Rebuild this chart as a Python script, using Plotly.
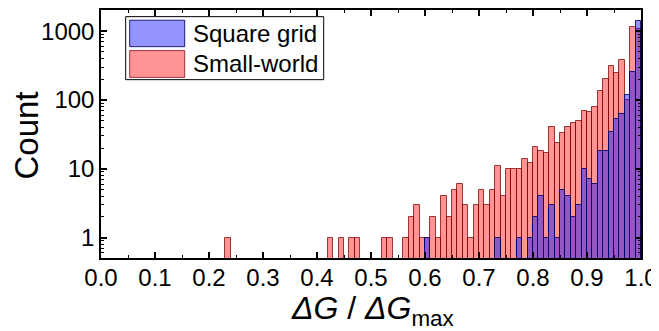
import plotly.graph_objects as go

# ---- data (bin left edges, bin width 0.01) ----
bin_width = 0.01
small_world_bins = [0.23, 0.42, 0.44, 0.46, 0.47, 0.52, 0.53, 0.56, 0.57, 0.58,
                    0.59, 0.60, 0.61, 0.62, 0.63, 0.64, 0.65, 0.66, 0.67, 0.68,
                    0.69, 0.70, 0.71, 0.72, 0.73, 0.74, 0.75, 0.76, 0.77, 0.78,
                    0.79, 0.80, 0.81, 0.82, 0.83, 0.84, 0.85, 0.86, 0.87, 0.88,
                    0.89, 0.90, 0.91, 0.92, 0.93, 0.94, 0.95, 0.96, 0.97, 0.98,
                    0.99]
small_world_counts = [1, 1, 1, 1, 1, 1, 1, 1, 2, 3,
                      1, 1, 2, 1, 4, 2, 5, 6, 3, 1,
                      3, 5, 3, 5, 11, 4, 10, 10, 10, 14,
                      12, 21, 18, 17, 40, 24, 33, 40, 46, 50,
                      68, 66, 80, 133, 204, 313, 250, 382, 101, 1137,
                      1070]

square_grid_bins = [0.60, 0.73, 0.77, 0.79, 0.80, 0.81, 0.82, 0.83, 0.84, 0.85,
                    0.86, 0.87, 0.88, 0.89, 0.90, 0.91, 0.92, 0.93, 0.94, 0.95,
                    0.96, 0.97, 0.98, 0.99]
square_grid_counts = [1, 1, 1, 1, 2, 4, 1, 3, 1, 5,
                      4, 2, 3, 10, 7, 6, 18, 18, 34, 53,
                      62, 120, 257, 1400]

x_tick_vals = [0.0, 0.1, 0.2, 0.3, 0.4, 0.5, 0.6, 0.7, 0.8, 0.9, 1.0]
x_tick_text = ["0.0", "0.1", "0.2", "0.3", "0.4", "0.5", "0.6", "0.7", "0.8", "0.9", "1.0"]
y_tick_vals = [1, 10, 100, 1000]
y_tick_text = ["1", "10", "100", "1000"]
y_minor_vals = [m * d for d in (0.1, 1, 10, 100, 1000) for m in range(2, 10)]

series_names = ["Square grid", "Small-world"]

# ---- styles ----
RED_FILL = "rgba(255,0,0,0.42)"
RED_LINE = "rgba(130,0,0,0.75)"
BLUE_FILL = "rgba(0,0,255,0.42)"
BLUE_LINE = "rgba(0,0,110,0.85)"
FONT = "Liberation Sans, Arial, sans-serif"

fig = go.Figure()
fig.add_trace(go.Bar(
    x=[b + bin_width / 2 for b in small_world_bins], y=small_world_counts,
    width=bin_width, name=series_names[1],
    marker=dict(color=RED_FILL, line=dict(color=RED_LINE, width=1)),
    showlegend=False))
fig.add_trace(go.Bar(
    x=[b + bin_width / 2 for b in square_grid_bins], y=square_grid_counts,
    width=bin_width, name=series_names[0],
    marker=dict(color=BLUE_FILL, line=dict(color=BLUE_LINE, width=1)),
    showlegend=False))

axis_common = dict(showline=True, linecolor="black", linewidth=1.5, mirror="allticks",
                   ticks="inside", ticklen=6, tickwidth=1.5, tickcolor="black",
                   showgrid=False, zeroline=False,
                   tickfont=dict(family=FONT, size=24, color="black"))

fig.update_xaxes(range=[0, 1], tickvals=x_tick_vals, ticktext=x_tick_text,
                 ticklabelstandoff=-3,
                 minor=dict(ticks="inside", ticklen=3, tickwidth=1.2, tickcolor="black",
                            dtick=0.05, tick0=0, showgrid=False),
                 **axis_common)
fig.update_yaxes(type="log", range=[-0.296, 3.307], tickvals=y_tick_vals, ticktext=y_tick_text,
                 minor=dict(ticks="inside", ticklen=3, tickwidth=1.2, tickcolor="black",
                            tickvals=y_minor_vals, showgrid=False),
                 **axis_common)

# legend drawn as shapes + text (paper coordinates)
shapes = [
    dict(type="rect", xref="paper", yref="paper", x0=0.0457, x1=0.4124, y0=0.7191, y1=0.9732,
         line=dict(color="black", width=1), fillcolor="white", layer="above"),
    dict(type="rect", xref="paper", yref="paper", x0=0.0531, x1=0.155, y0=0.8522, y1=0.9588,
         line=dict(color=BLUE_LINE, width=1), fillcolor=BLUE_FILL, layer="above"),
    dict(type="rect", xref="paper", yref="paper", x0=0.0531, x1=0.155, y0=0.7283, y1=0.8362,
         line=dict(color=RED_LINE, width=1), fillcolor=RED_FILL, layer="above"),
]
annotations = [
    dict(text=series_names[0], xref="paper", yref="paper", x=0.166, y=0.9055,
         xanchor="left", yanchor="middle", showarrow=False,
         font=dict(family=FONT, size=24, color="black")),
    dict(text=series_names[1], xref="paper", yref="paper", x=0.166, y=0.7823,
         xanchor="left", yanchor="middle", showarrow=False,
         font=dict(family=FONT, size=24, color="black")),
    dict(text="Count", xref="paper", yref="paper", x=-0.1376, y=0.4926, textangle=-90,
         xanchor="center", yanchor="middle", showarrow=False,
         font=dict(family=FONT, size=33, color="black")),
    dict(text="<i>ΔG</i> / <i>ΔG</i><sub>max</sub>", xref="paper", yref="paper",
         x=0.502, y=-0.122, xanchor="center", yanchor="top", showarrow=False,
         font=dict(family=FONT, size=32, color="black")),
]

# the page body adds an 8px offset, so the figure is 8px smaller and shifted
fig.update_layout(
    width=651, height=323,
    margin=dict(l=93, r=18, t=0, b=73, pad=0),
    paper_bgcolor="white", plot_bgcolor="white",
    barmode="overlay", bargap=0,
    shapes=shapes, annotations=annotations,
    font=dict(family=FONT, color="black"),
)

fig.write_html("out.html")
